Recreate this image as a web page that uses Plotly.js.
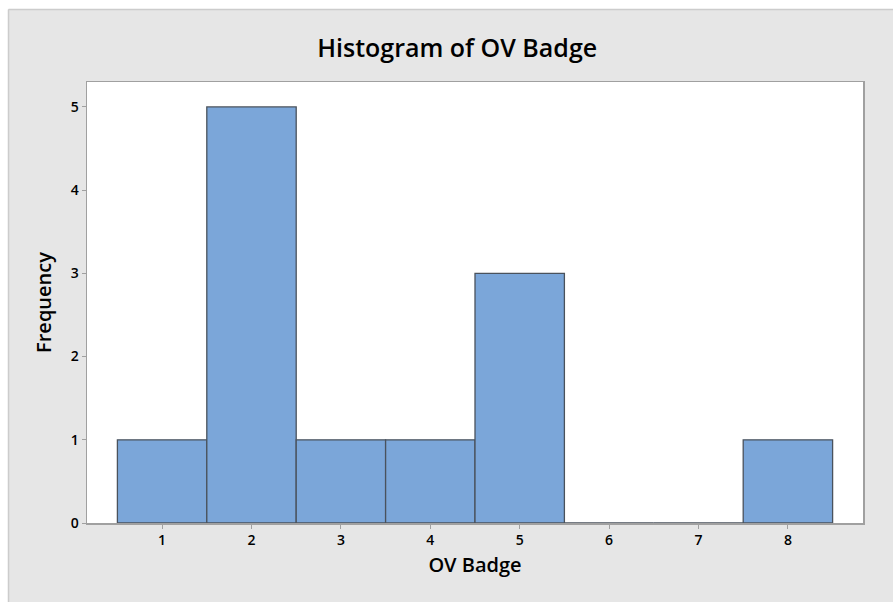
<!DOCTYPE html>
<html>
<head>
<meta charset="utf-8">
<script src="https://cdn.plot.ly/plotly-3.0.1.min.js"></script>
<style>html,body{margin:0;padding:0;background:#fff;}#chart{width:893px;height:602px;}</style>
</head>
<body>
<div id="chart"></div>
<script>
const badgeValues = [1, 2, 3, 4, 5, 6, 7, 8];
const frequencies = [1, 5, 1, 1, 3, 0, 0, 1];
const xTickLabels = ['1', '2', '3', '4', '5', '6', '7', '8'];
const yTickValues = [0, 1, 2, 3, 4, 5];

const font = 'Open Sans, Noto Sans, sans-serif';
const W = 893, H = 602;
const M = { l: 87, r: 30, t: 82, b: 79 };
const pw = W - M.l - M.r, ph = H - M.t - M.b;
const px = v => (v - M.l) / pw;          // pixel x -> paper x
const py = v => (H - M.b - v) / ph;      // pixel y -> paper y

const trace = {
  type: 'bar',
  x: badgeValues,
  y: frequencies,
  width: 1,
  marker: { color: '#7ba6d9', line: { color: '#4a525c', width: 1.3 } },
  hoverinfo: 'x+y'
};

const layout = {
  width: W,
  height: H,
  paper_bgcolor: '#e6e6e6',
  plot_bgcolor: '#ffffff',
  margin: M,
  bargap: 0,
  showlegend: false,
  title: {
    text: 'Histogram of OV Badge',
    font: { family: font, size: 25, color: '#000', weight: 600 },
    x: 0.512, xanchor: 'center', y: 0.92, yanchor: 'middle'
  },
  xaxis: {
    range: [0.16, 8.84],
    tickmode: 'array', tickvals: badgeValues, ticktext: xTickLabels,
    ticks: 'outside', ticklen: 4, tickcolor: '#a0a0a0', tickwidth: 1,
    showline: true, linecolor: '#a0a0a0', linewidth: 1.5, mirror: true,
    showgrid: false, zeroline: false,
    tickfont: { family: font, size: 14, color: '#000', weight: 600 },
    title: { text: 'OV Badge', font: { family: font, size: 20, color: '#000', weight: 600 }, standoff: 9 },
    fixedrange: true
  },
  yaxis: {
    range: [0, 5.3],
    tickmode: 'array', tickvals: yTickValues,
    ticks: 'outside', ticklen: 4, tickcolor: '#a0a0a0', tickwidth: 1,
    showline: true, linecolor: '#a0a0a0', linewidth: 1.5, mirror: true,
    showgrid: false, zeroline: false,
    tickfont: { family: font, size: 14, color: '#000', weight: 600 },
    title: { text: 'Frequency', font: { family: font, size: 20, color: '#000', weight: 600 }, standoff: 13 },
    fixedrange: true
  },
  shapes: [
    { type: 'rect', xref: 'paper', yref: 'paper', layer: 'above',
      x0: px(-2), x1: px(W + 2), y0: py(9), y1: py(-2),
      fillcolor: '#ffffff', line: { width: 0 } },
    { type: 'rect', xref: 'paper', yref: 'paper', layer: 'above',
      x0: px(-2), x1: px(8), y0: py(H + 2), y1: py(-2),
      fillcolor: '#ffffff', line: { width: 0 } },
    { type: 'line', xref: 'paper', yref: 'paper', layer: 'above',
      x0: px(8.5), x1: px(W + 2), y0: py(9.5), y1: py(9.5),
      line: { color: '#cccccc', width: 1.5 } },
    { type: 'line', xref: 'paper', yref: 'paper', layer: 'above',
      x0: px(8.5), x1: px(8.5), y0: py(9.5), y1: py(H + 2),
      line: { color: '#cccccc', width: 1.5 } }
  ]
};

Plotly.newPlot('chart', [trace], layout, { displayModeBar: false, staticPlot: true });
</script>
</body>
</html>
